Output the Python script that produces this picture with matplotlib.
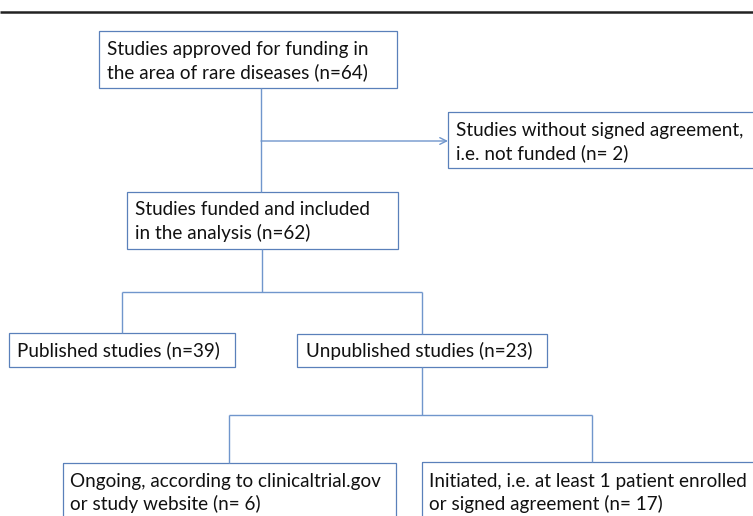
import matplotlib
matplotlib.use("Agg")
import matplotlib.pyplot as plt
from matplotlib.patches import Rectangle

# Flowchart content
labels = [
    "Studies approved for funding in\nthe area of rare diseases (n=64)",
    "Studies without signed agreement,\ni.e. not funded (n= 2)",
    "Studies funded and included\nin the analysis (n=62)",
    "Published studies (n=39)",
    "Unpublished studies (n=23)",
    "Ongoing, according to clinicaltrial.gov\nor study website (n= 6)",
    "Initiated, i.e. at least 1 patient enrolled\nor signed agreement (n= 17)",
]
counts = [64, 2, 62, 39, 23, 6, 17]

# layout (pixel coordinates, y downward): x0, y0, x1, y1
boxes = [
    (99, 31, 397, 88),
    (448, 112, 760, 168),
    (127, 192, 398, 249),
    (9, 333, 235, 367),
    (297, 334, 547, 367),
    (63, 463, 396, 530),
    (422, 462, 760, 530),
]
text_pos = [
    (107, 61),
    (456, 142),
    (135, 221.5),
    (17, 350),
    (306, 351),
    (70, 493),
    (429, 493),
]

W, H = 753, 516
fig = plt.figure(figsize=(W / 100, H / 100), dpi=100)
ax = fig.add_axes([0, 0, 1, 1])
ax.set_xlim(0, W)
ax.set_ylim(H, 0)
ax.axis("off")

line_c = "#7096cc"
box_c = "#5a80ba"

# top rule
ax.plot([0, W], [12, 12], color="#222222", lw=1.8, solid_capstyle="butt")

for (x0, y0, x1, y1), lab, (tx, ty) in zip(boxes, labels, text_pos):
    ax.add_patch(Rectangle((x0, y0), x1 - x0, y1 - y0, fill=False,
                           edgecolor=box_c, lw=0.9))
    ax.text(tx, ty, lab, ha="left", va="center", fontsize=13.6,
            family="Lato", color="#111111", linespacing=1.38)

def seg(xs, ys):
    ax.plot(xs, ys, color=line_c, lw=1.0, solid_capstyle="butt")

seg([261, 261], [88, 192])
ax.annotate("", xy=(448, 141), xytext=(261, 141),
            arrowprops=dict(arrowstyle="->", color=line_c, lw=1.0,
                            shrinkA=0, shrinkB=0, mutation_scale=12))
seg([262, 262], [249, 292])
seg([122, 422], [292, 292])
seg([122, 122], [292, 333])
seg([422, 422], [292, 334])
seg([422, 422], [367, 415])
seg([229, 592], [415, 415])
seg([229, 229], [415, 463])
seg([592, 592], [415, 462])

fig.savefig("out.png", dpi=100)
